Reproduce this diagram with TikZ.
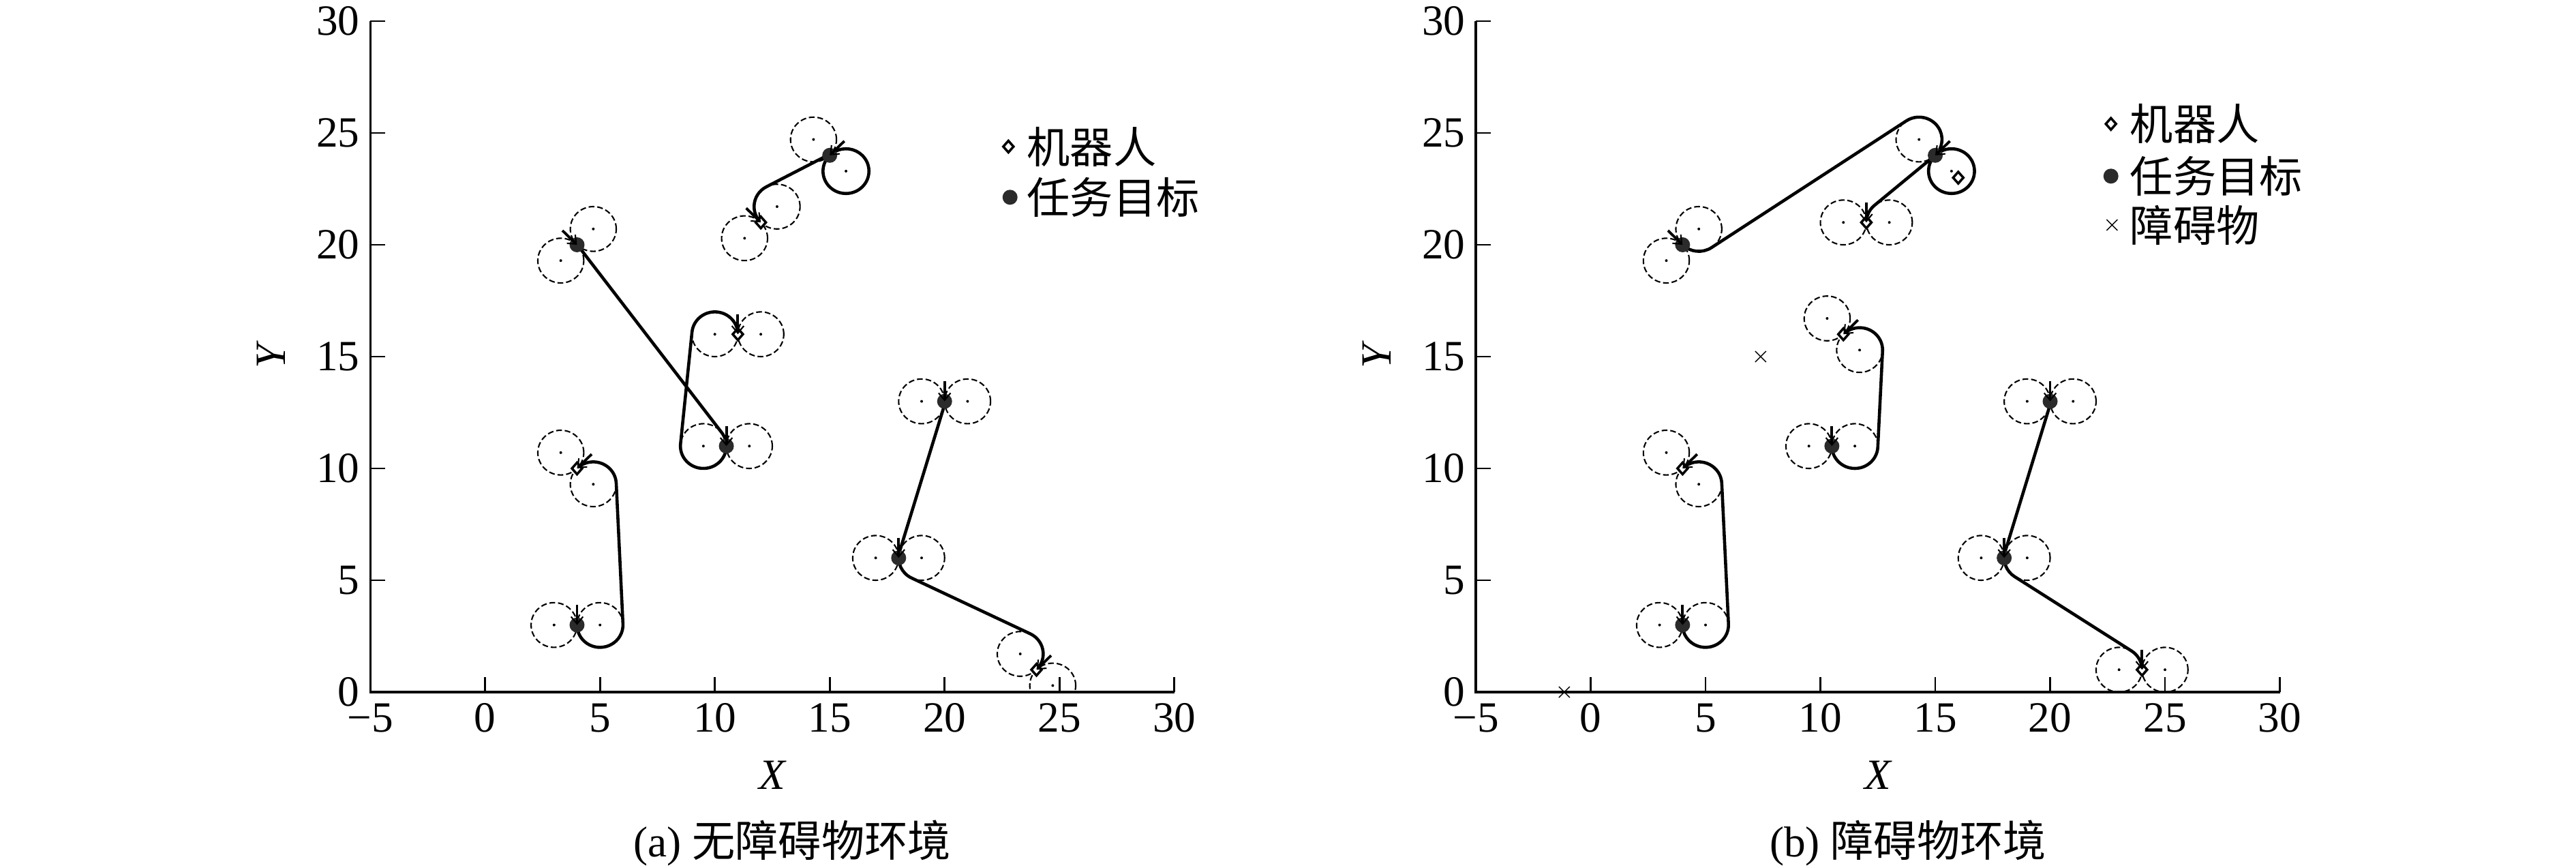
\documentclass[tikz,border=0pt]{standalone}
\usepackage{fontspec}
\setmainfont{Liberation Serif}
\newfontfamily\cjk{Noto Sans CJK SC}
\usetikzlibrary{calc,arrows.meta}
\newcommand\wayp[2]{%
  \draw[dcirc] ($(#1)+({#2+90}:1)$) circle[radius=1];
  \draw[dcirc] ($(#1)+({#2-90}:1)$) circle[radius=1];
  \fill ($(#1)+({#2+90}:1)$) circle[radius=0.02cm];
  \fill ($(#1)+({#2-90}:1)$) circle[radius=0.02cm];
}
\newcommand\tgtmark[1]{\fill[tgt] (#1) circle[radius=0.11cm];}
\newcommand\robmark[1]{\draw[rob] (#1) ++(0,0.085cm) -- ++(0.075cm,-0.085cm) -- ++(-0.075cm,-0.085cm) -- ++(-0.075cm,0.085cm) -- cycle;}
\newcommand\obsmark[1]{\draw[obs] (#1) ++(-0.08cm,-0.08cm) -- ++(0.16cm,0.16cm) ++(-0.16cm,0) -- ++(0.16cm,-0.16cm);}
\newcommand\headarrow[2]{\draw[arr] ($(#1)+({#2+180}:0.9)$) -- (#1);}
\newcommand\drawaxes{%
  \draw[axisl] (-5,30) -- (-5,0) -- (30,0);
  \foreach \t in {0,5,...,30} \draw[tickl] (\t,0) -- ++(0,0.22cm);
  \foreach \t in {5,10,...,30} \draw[tickl] (-5,\t) -- ++(0.22cm,0);
  \node[lbl,anchor=north] at ($(-5,0)+(0,-0.16cm)$) {−5};
  \foreach \t in {0,5,...,30} \node[lbl,anchor=north] at ($(\t,0)+(0,-0.16cm)$) {\t};
  \foreach \t in {0,5,...,30} \node[lbl,anchor=east] at ($(-5,\t)+(-0.15cm,0)$) {\t};
}
\begin{document}
\begin{tikzpicture}[
  dcirc/.style={line width=0.6pt, dash pattern=on 2.4pt off 1.2pt},
  pth/.style={line width=1.3pt, line join=round},
  tgt/.style={fill=black!83},
  rob/.style={draw=black, line width=1pt, fill=white},
  obs/.style={draw=black, line width=0.4pt},
  arr/.style={line width=1.1pt, -{Straight Barb[length=3pt,width=5pt,line width=0.6pt]}},
  axisl/.style={line width=0.95pt},
  tickl/.style={line width=0.8pt},
  lbl/.style={font=\fontsize{18}{21.6}\selectfont, inner sep=0pt},
  cjklbl/.style={font=\fontsize{18}{21.6}\selectfont\cjk, inner sep=0pt},
]
\useasboundingbox (0,0) rectangle (37.79,12.72);

%% ================= Panel (a) =================
\begin{scope}[xshift=7.117cm, yshift=2.57cm, x=0.337cm, y=0.328cm]
  \coordinate (aR1) at (12,21);
  \coordinate (aR2) at (11,16);
  \coordinate (aR3) at (4,10);
  \coordinate (aR4) at (24,1);
  \coordinate (aT1) at (15,24);
  \coordinate (aT2) at (4,20);
  \coordinate (aT3) at (10.5,11);
  \coordinate (aT4) at (4,3);
  \coordinate (aT5) at (20,13);
  \coordinate (aT6) at (18,6);
  \begin{scope}
    \clip (-5,0) rectangle (30,30);
    \wayp{aR1}{-45}
    \wayp{aR2}{-90}
    \wayp{aR3}{225}
    \wayp{aR4}{225}
    \wayp{aT1}{225}
    \wayp{aT2}{-45}
    \wayp{aT3}{-90}
    \wayp{aT4}{-90}
    \wayp{aT5}{-90}
    \wayp{aT6}{-90}
    % paths
    \draw[pth] ($(15.7071,23.2929)+(135:1)$) arc[start angle=135,end angle=477.861,radius=1]
      -- ($(12.7071,21.7071)+(117.861:1)$) arc[start angle=117.861,end angle=225,radius=1];
    \draw[pth] ($(3.2929,19.2929)+(45:1)$) arc[start angle=45,end angle=36.816,radius=1]
      -- ($(9.5,11)+(36.816:1)$) arc[start angle=36.816,end angle=-185.711,radius=1]
      -- ($(10,16)+(174.289:1)$) arc[start angle=174.289,end angle=0,radius=1];
    \draw[pth] ($(5,3)+(180:1)$) arc[start angle=180,end angle=362.665,radius=1]
      -- ($(4.7071,9.2929)+(2.665:1)$) arc[start angle=2.665,end angle=135,radius=1];
    \draw[pth] ($(19,13)+(0:1)$) arc[start angle=0,end angle=-16.6,radius=1]
      -- ($(19,6)+(163.4:1)$) arc[start angle=163.4,end angle=244.234,radius=1]
      -- ($(23.2929,1.7071)+(64.234:1)$) arc[start angle=64.234,end angle=-45,radius=1];
  \end{scope}
  \foreach \p in {aT1,aT2,aT3,aT4,aT5,aT6} {\tgtmark{\p}}
  \foreach \p in {aR1,aR2,aR3,aR4} {\robmark{\p}}
  \headarrow{aR1}{-45}
  \headarrow{aR2}{-90}
  \headarrow{aR3}{225}
  \headarrow{aR4}{225}
  \headarrow{aT1}{225}
  \headarrow{aT2}{-45}
  \headarrow{aT3}{-90}
  \headarrow{aT4}{-90}
  \headarrow{aT5}{-90}
  \headarrow{aT6}{-90}
  \drawaxes
\end{scope}
% labels (a)
\node[lbl,font=\fontsize{18}{21.6}\selectfont\itshape] (axa) at (11.33,1.35) {X};
\node[lbl,font=\fontsize{18}{21.6}\selectfont\itshape,rotate=90] (aya) at (3.98,7.49) {Y};
\node[lbl] (capa) at (11.62,0.36) {(a) {\cjk 无障碍物环境}};
\coordinate (lga1) at (14.793,10.57);
\coordinate (lga2) at (14.817,9.827);
\robmark{lga1}
\tgtmark{lga2}
\node[cjklbl,anchor=west] (lgta1) at (15.06,10.57) {机器人};
\node[cjklbl,anchor=west] (lgta2) at (15.06,9.827) {任务目标};

%% ================= Panel (b) =================
\begin{scope}[xshift=23.335cm, yshift=2.57cm, x=0.337cm, y=0.328cm]
  \coordinate (bR0) at (16,23);
  \coordinate (bR1) at (12,21);
  \coordinate (bR2) at (11,16);
  \coordinate (bR3) at (4,10);
  \coordinate (bR4) at (24,1);
  \coordinate (bT1) at (15,24);
  \coordinate (bT2) at (4,20);
  \coordinate (bT3) at (10.5,11);
  \coordinate (bT4) at (4,3);
  \coordinate (bT5) at (20,13);
  \coordinate (bT6) at (18,6);
  \coordinate (bO1) at (7.4,15);
  \coordinate (bO2) at (-1.15,0);
  \begin{scope}
    \clip (-5,0) rectangle (30,30);
    \wayp{bR1}{-90}
    \wayp{bR2}{225}
    \wayp{bR3}{225}
    \wayp{bR4}{-90}
    \wayp{bT1}{225}
    \wayp{bT2}{-45}
    \wayp{bT3}{-90}
    \wayp{bT4}{-90}
    \wayp{bT5}{-90}
    \wayp{bT6}{-90}
    % paths
    \draw[pth] ($(4.7071,20.7071)+(225:1)$) arc[start angle=225,end angle=303.75,radius=1]
      -- ($(14.2929,24.7071)+(123.75:1)$) arc[start angle=123.75,end angle=-45,radius=1]
      arc[start angle=135,end angle=490.263,radius=1]
      -- ($(13,21)+(130.263:1)$) arc[start angle=130.263,end angle=180,radius=1];
    \draw[pth] ($(11.5,11)+(180:1)$) arc[start angle=180,end angle=357.238,radius=1]
      -- ($(11.7071,15.2929)+(-2.762:1)$) arc[start angle=-2.762,end angle=135,radius=1];
    \draw[pth] ($(5,3)+(180:1)$) arc[start angle=180,end angle=362.665,radius=1]
      -- ($(4.7071,9.2929)+(2.665:1)$) arc[start angle=2.665,end angle=135,radius=1];
    \draw[pth] ($(19,13)+(0:1)$) arc[start angle=0,end angle=-16.6,radius=1]
      -- ($(19,6)+(163.4:1)$) arc[start angle=163.4,end angle=236.861,radius=1]
      -- ($(23,1)+(56.861:1)$) arc[start angle=56.861,end angle=0,radius=1];
  \end{scope}
  \foreach \p in {bT1,bT2,bT3,bT4,bT5,bT6} {\tgtmark{\p}}
  \foreach \p in {bR0,bR1,bR2,bR3,bR4} {\robmark{\p}}
  \obsmark{bO1}
  \obsmark{bO2}
  \headarrow{bR1}{-90}
  \headarrow{bR2}{225}
  \headarrow{bR3}{225}
  \headarrow{bR4}{-90}
  \headarrow{bT1}{225}
  \headarrow{bT2}{-45}
  \headarrow{bT3}{-90}
  \headarrow{bT4}{-90}
  \headarrow{bT5}{-90}
  \headarrow{bT6}{-90}
  \drawaxes
\end{scope}
% labels (b)
\node[lbl,font=\fontsize{18}{21.6}\selectfont\itshape] (axb) at (27.55,1.35) {X};
\node[lbl,font=\fontsize{18}{21.6}\selectfont\itshape,rotate=90] (ayb) at (20.20,7.49) {Y};
\node[lbl] (capb) at (27.99,0.36) {(b) {\cjk 障碍物环境}};
\coordinate (lgb1) at (30.967,10.903);
\coordinate (lgb2) at (30.967,10.137);
\coordinate (lgb3) at (30.983,9.42);
\robmark{lgb1}
\tgtmark{lgb2}
\obsmark{lgb3}
\node[cjklbl,anchor=west] (lgtb1) at (31.24,10.903) {机器人};
\node[cjklbl,anchor=west] (lgtb2) at (31.24,10.137) {任务目标};
\node[cjklbl,anchor=west] (lgtb3) at (31.24,9.42) {障碍物};
\end{tikzpicture}
\end{document}
